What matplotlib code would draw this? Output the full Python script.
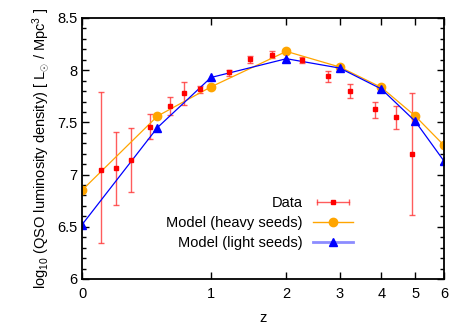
import numpy as np
import matplotlib
matplotlib.use("Agg")
import matplotlib.pyplot as plt
from matplotlib.ticker import MultipleLocator, FormatStrFormatter
from matplotlib.lines import Line2D
from matplotlib.legend_handler import HandlerLine2D, HandlerTuple

plt.rcParams['font.family'] = ['Liberation Sans', 'DejaVu Sans']
plt.rcParams['mathtext.fontset'] = 'custom'
plt.rcParams['mathtext.rm'] = 'Liberation Sans'
plt.rcParams['mathtext.it'] = 'Liberation Sans'

# dati osservati (z, log density, errori)
data_z = [0.107, 0.198, 0.299, 0.441, 0.602, 0.733, 0.888, 1.20, 1.47,
          1.77, 2.26, 2.75, 3.23, 3.82, 4.41, 4.90]
data_y = [7.04, 7.06, 7.14, 7.46, 7.66, 7.78, 7.82, 7.98, 8.11,
          8.15, 8.095, 7.94, 7.80, 7.625, 7.55, 7.20]
data_up = [7.79, 7.41, 7.45, 7.58, 7.74, 7.89, 7.85, 8.00, 8.14,
           8.18, 8.125, 7.99, 7.87, 7.70, 7.66, 7.78]
data_lo = [6.34, 6.71, 6.83, 7.34, 7.57, 7.67, 7.78, 7.94, 8.07,
           8.12, 8.065, 7.89, 7.73, 7.54, 7.44, 6.61]

# modelli
model_z = [0, 0.5, 1, 2, 3, 4, 5, 6]
heavy_y = [6.85, 7.56, 7.84, 8.18, 8.03, 7.835, 7.56, 7.28]
light_y = [6.52, 7.45, 7.93, 8.11, 8.02, 7.82, 7.51, 7.13]

data_y = np.array(data_y)
yerr = [data_y - np.array(data_lo), np.array(data_up) - data_y]

fs = 10.5
fig = plt.figure(figsize=(4.67, 3.27), dpi=100)
ax = fig.add_axes([0.1756, 0.1468, 0.7751, 0.7982])

ax.set_xscale('function', functions=(lambda z: np.log10(1 + np.clip(z, -0.999, None)),
                                     lambda t: 10**t - 1))

ecol = (1, 0.2, 0.2, 0.8)
ax.errorbar(data_z, data_y, yerr=yerr, fmt='s', color='red', ms=3.5,
            ecolor=ecol, elinewidth=1, capsize=2, capthick=1)
h_heavy, = ax.plot(model_z, heavy_y, '-o', color='orange', lw=0.9, ms=6)
h_light, = ax.plot(model_z, light_y, '-^', color='blue', lw=0.9, ms=6)

ax.set_xlim(0, 6)
ax.set_ylim(6, 8.5)
ax.set_xticks([0, 1, 2, 3, 4, 5, 6])
ax.xaxis.set_major_formatter(FormatStrFormatter('%g'))
ax.xaxis.set_minor_locator(plt.NullLocator())
ax.yaxis.set_major_locator(MultipleLocator(0.5))
ax.yaxis.set_minor_locator(MultipleLocator(0.1))
ax.yaxis.set_major_formatter(FormatStrFormatter('%g'))

ax.tick_params(which='both', direction='in', top=True, right=True, labelsize=fs)
ax.tick_params(which='major', length=5, width=1)
ax.tick_params(which='minor', length=3, width=1)
ax.tick_params(axis='x', pad=6)
for s in ax.spines.values():
    s.set_linewidth(1.3)

ax.set_xlabel('z', fontsize=fs, labelpad=7)
ax.set_ylabel(r'log$_{10}$ (QSO luminosity density) [ L$_{\odot}$ / Mpc$^3$ ]', fontsize=fs)

# legenda stile gnuplot
caps = Line2D([], [], color=ecol, lw=1, marker='|', ms=5, mew=1)
sq = Line2D([], [], color='red', ls='none', marker='s', ms=3)
leg_heavy = Line2D([], [], color='orange', lw=1, marker='o', ms=6)
leg_light = Line2D([], [], color=(0.55, 0.55, 1), lw=2, marker='^', ms=5.5,
                   mfc='blue', mec='blue')
handles = [(caps, sq), leg_heavy, leg_light]
labels = ['Data', 'Model (heavy seeds)', 'Model (light seeds)']
ax.legend(handles, labels, loc='lower right',
          bbox_to_anchor=(353 / 467, (327 - 250) / 327), bbox_transform=fig.transFigure,
          borderaxespad=0, borderpad=0, frameon=False, markerfirst=False,
          fontsize=fs, handlelength=2.75, labelspacing=0.4, handletextpad=0.7,
          handler_map={caps: HandlerLine2D(numpoints=2), tuple: HandlerTuple(ndivide=1)})

fig.savefig('out.png', dpi=100)
